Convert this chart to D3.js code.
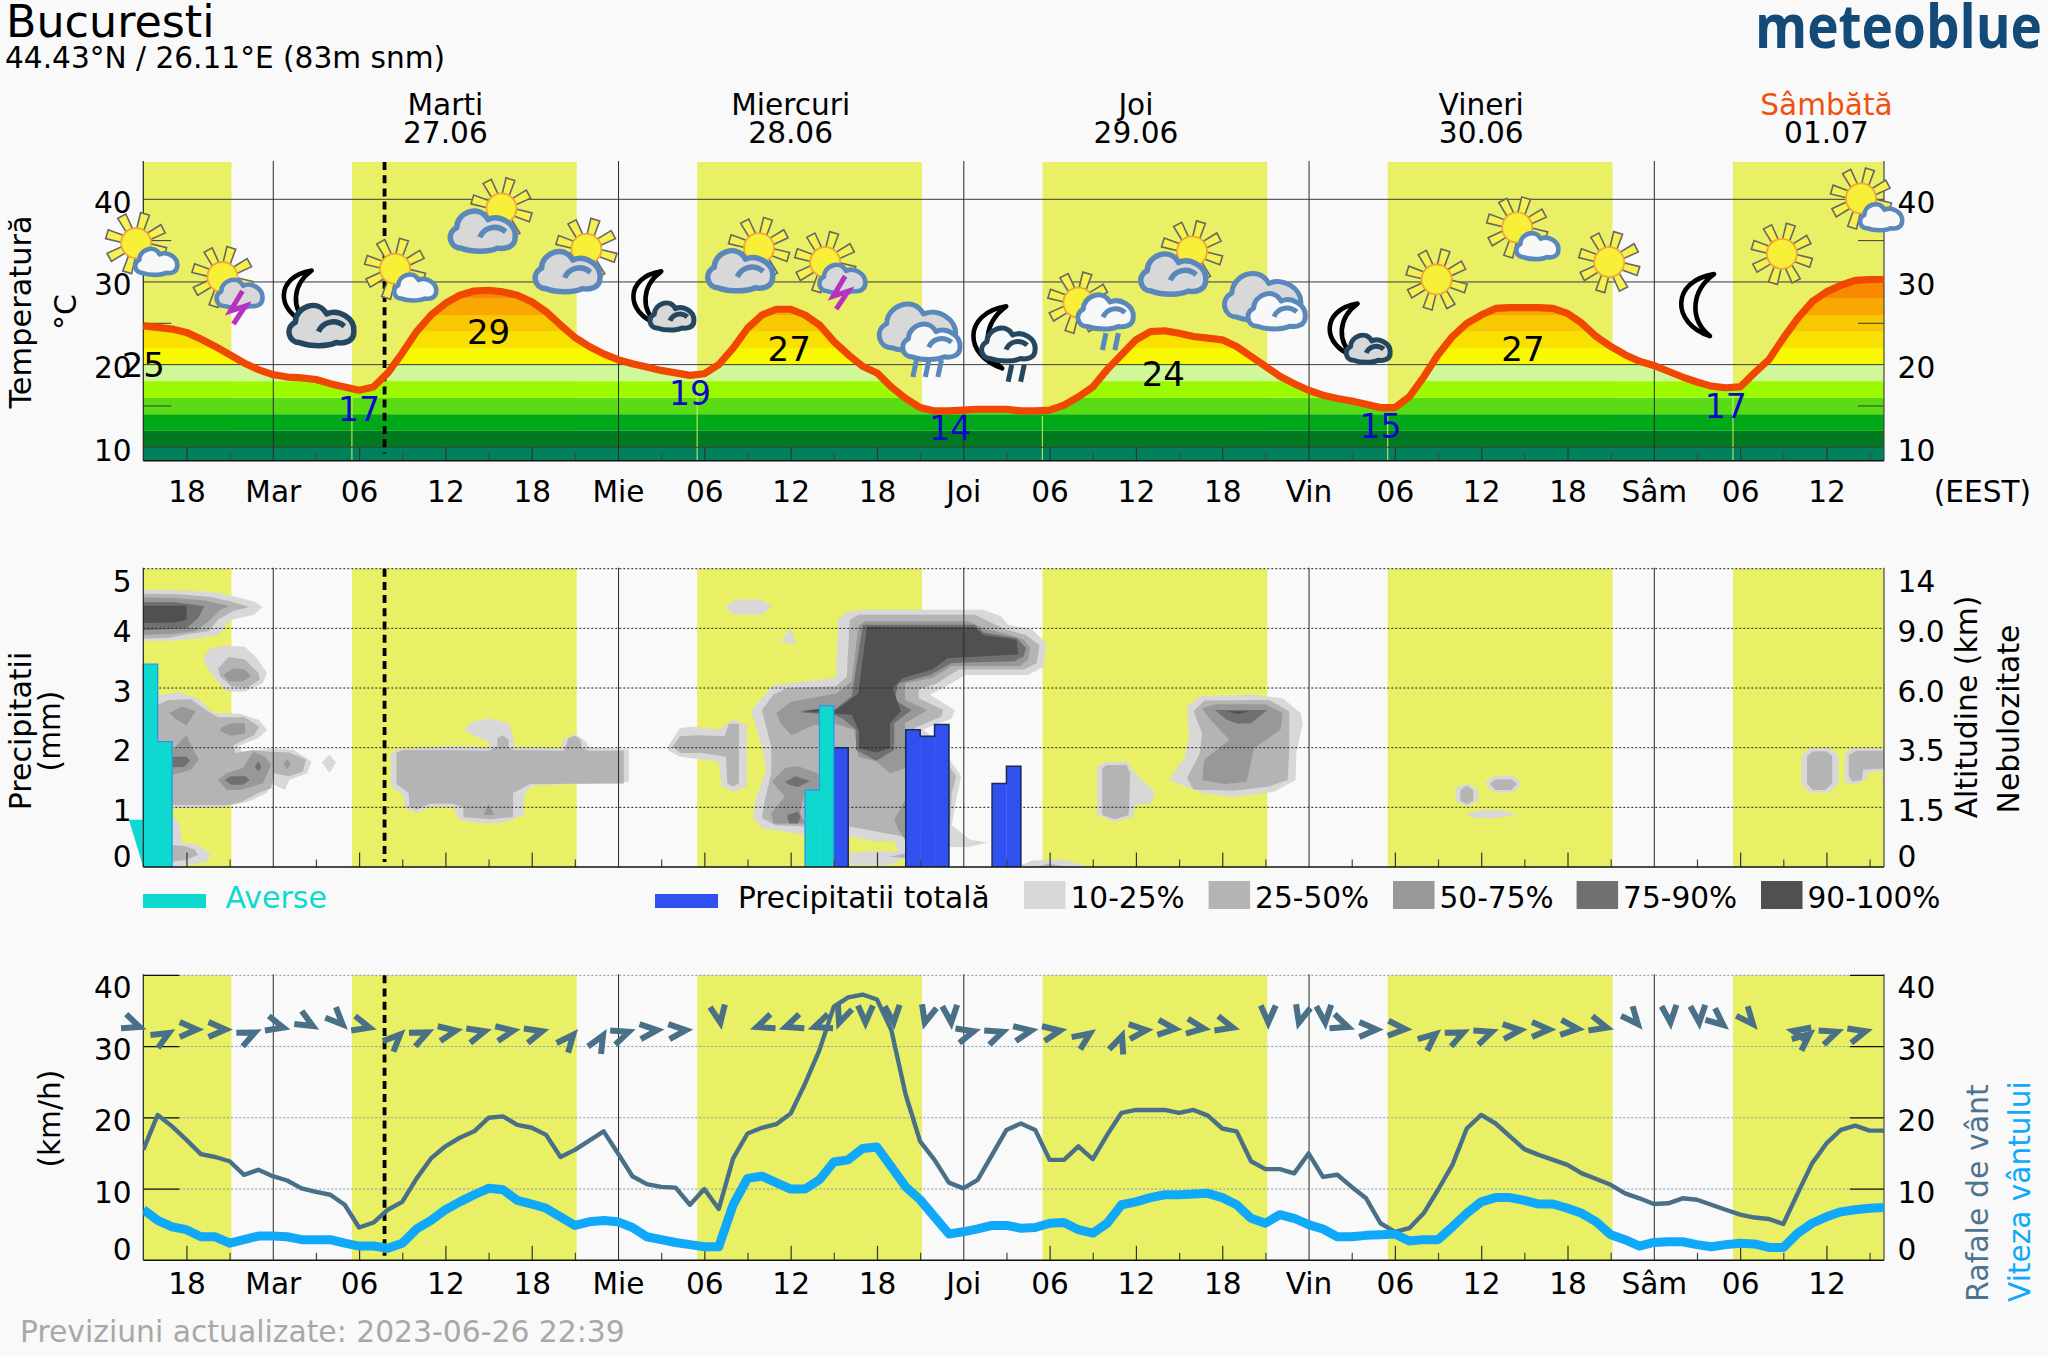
<!DOCTYPE html>
<html><head><meta charset="utf-8">
<style>html,body{margin:0;padding:0;background:#f9f9f9}svg{display:block}text{font-family:"DejaVu Sans",sans-serif}</style>
<script src="https://cdn.jsdelivr.net/npm/d3@7/dist/d3.min.js"></script>
</head><body><div id="c"></div>
<script>
// ---------- DATA ----------
const startHour = -9, endHour = 112;   // hours from Tuesday 00:00
const hours = d3.range(startHour, endHour + 1);
const temperature = [24.7,24.5,24.3,23.9,23.1,22.2,21.2,20.2,19.4,18.8,18.5,18.4,18.2,17.7,17.3,16.9,17.3,19,21.4,24,26,27.4,28.4,28.9,29,28.8,28.4,27.6,26.4,24.8,23.3,22.2,21.3,20.6,20.1,19.7,19.3,19,18.7,18.9,20,22,24.4,26,26.7,26.7,26,24.8,22.8,21.2,19.8,19,17.3,15.9,14.8,14.4,14.4,14.5,14.6,14.6,14.6,14.4,14.4,14.5,15.1,16.1,17.3,19.4,21.2,23,24,24.1,23.8,23.4,23.2,23,22.2,21,19.8,18.6,17.7,16.9,16.3,15.9,15.6,15.2,14.8,14.8,16.1,18.5,21.2,23.4,25,26,26.8,26.9,26.9,26.9,26.8,26.2,25,23.4,22.2,21.2,20.4,19.9,19.2,18.5,17.9,17.4,17.2,17.3,19,20.6,23.2,25.6,27.6,28.8,29.6,30.2,30.3,30.3];
const gusts = [15.5,20.4,18.8,16.9,14.9,14.5,13.9,12,12.7,11.8,11.2,10.1,9.6,9.2,7.8,4.6,5.3,7.1,8.2,11.5,14.3,16,17.2,18.1,20,20.2,19,18.6,17.6,14.5,15.5,16.8,18.1,15,11.8,10.7,10.3,10.2,7.8,10,7.2,14.3,17.8,18.6,19.1,20.6,24.8,29.5,35.6,36.9,37.3,36.6,32.3,23.2,16.7,14.1,10.9,10.1,11.3,14.8,18.3,19.2,18.3,14.1,14.1,16,14.2,17.6,20.7,21.1,21.1,21.1,20.7,21.1,20.3,18.5,18.1,13.9,12.8,12.8,12.2,15,11.7,12,10.3,8.7,5.2,4,4.5,6.6,9.9,13.4,18.5,20.4,19.2,17.4,15.6,14.8,14.1,13.4,12.2,11.4,10.6,9.4,8.7,7.9,8,8.7,8.5,7.8,7.1,6.4,6,5.8,5.1,9.4,13.6,16.4,18.3,18.9,18.2,18.2];
const windSpeed = [7.1,5.6,4.7,4.3,3.3,3.3,2.4,2.9,3.4,3.4,3.3,2.9,2.9,2.9,2.4,2,2,1.7,2.4,4.4,5.6,7.1,8.2,9.2,10.1,9.9,8.4,7.9,7.3,6.1,4.9,5.4,5.6,5.4,4.6,3.3,2.9,2.5,2.2,1.9,1.9,7.8,11.5,11.8,10.9,10,10,11.3,13.8,14.1,15.7,15.9,13.1,10.3,8.5,6.1,3.7,4,4.4,4.9,4.9,4.5,4.6,5.2,5.3,4.3,3.8,5.2,7.8,8.2,8.8,9.2,9.2,9.3,9.4,8.8,7.8,5.9,5.2,6.4,5.9,5,4.4,3.3,3.3,3.5,3.6,3.7,2.7,2.9,2.9,4.7,6.6,8.2,8.8,8.8,8.4,7.9,7.9,7.3,6.6,5.4,3.6,2.9,2,2.5,2.6,2.6,2.2,1.9,2.2,2.4,2.3,1.8,1.8,3.8,5.2,6.1,6.8,7.1,7.3,7.4];
const windDirection = [20,-30,0,0,-25,15,30,45,15,-45,-25,-10,-15,-10,-15,-50,-60,-20,-5,-5,80,160,160,160,110,90,85,105,85,-15,-20,-10,-10,-35,-70,-5,5,8,15,90,105,85,20,0,3,-40,-25,-20,-5,0,5,15,50,85,85,40,50,193,-40,-20,-15];
const windArrowFirstHour = -8.8, windArrowStep = 2, windArrowLevel = 32.4;
const sunrise = [5.5,29.5,53.5,77.5,101.5];
const dayStart = [-9,5.5,29.5,53.5,77.5,101.5];
const dayEnd = [-2.87,21.13,45.13,69.13,93.13,112];
const tempBandFloor = [8,10,12,14,16,18,20,22,24,26,28,30];
const tempBandTop = [10,12,14,16,18,20,22,24,26,28,30,46];
const tempBandColor = ["#00805c","#007a20","#00a81a","#5adc14","#9cfa00","#d0f898","#f8f800","#f8e000","#f8c800","#f8a800","#f88800","#f06800"];
const maxLabelHour = [-9,15,35.9,61.9,86.9], maxLabelValue = [25,29,27,24,27];
const minLabelHour = [6,29,47.1,77,101], minLabelValue = [17,19,14,15,17], minLabelLevel = [17,19,14.8,15,17.4];
const dayNames = ["Marti","Miercuri","Joi","Vineri","Sâmbătă"];
const dayDates = ["27.06","28.06","29.06","30.06","01.07"];
const dayNoon = [12,36,60,84,108];
const dayColor = ["#000","#000","#000","#000","#f05010"];
const hourTickLabelHours = d3.range(-6,110,6);
const hourTickNames = {0:"Mar",24:"Mie",48:"Joi",72:"Vin",96:"Sâm"};
const nowHour = 7.77;
const tempTicks=[10,20,30,40], tempMinor=[15,25,35];
const precipTicks=[0,1,2,3,4,5], altitudeLabels=["0","1.5","3.5","6.0","9.0","14"];
const windTicks=[0,10,20,30,40];
const showerHour=[-9,-8,37,38], showerValue=[3.4,2.1,1.29,2.7];
const totalHour=[39,44,45,46,50,51], totalValue=[2,2.3,2.19,2.39,1.4,1.69];
const showerSliver=[[-10,0.79],[-9,0.79],[-9,0]];
const iconHour=[-9.5,-3.5,1.7,8.5,15.9,21.8,26,33.8,38.4,45,49.8,56,63.9,69,74.4,80.9,86.5,92.9,99,104.9,110.4];
const iconLevel=[34.7,30.6,28.2,31.6,38.9,34,28.1,34.1,32.4,24.5,23.3,27.5,33.7,28.2,24.2,30.3,36.6,32.4,27.2,33.4,40.1];
const iconKind=["sunSmall","sunBolt","moonCloud","sunSmall","sunBig","sunBig","moonSmall","sunBig","sunBolt","dblRain","moonRain","sunRain","sunBig","dbl","moonSmall","sun","sunSmall","sun","moon","sun","sunSmall"];
const cloudColors=["#d8d8d8","#b4b4b4","#989898","#707070","#505050"];
const legendCloudNames=["10-25%","25-50%","50-75%","75-90%","90-100%"];
// cloud-cover contours: [hour, level on the left precipitation axis]
const cloud10=[
[[-9.07,4.65],[-6.6,4.64],[-4.1,4.61],[-2.6,4.53],[-1.3,4.45],[-0.7,4.36],[-1.3,4.23],[-2.6,4.16],[-3.05,4.12],[-3.7,3.89],[-5.4,3.83],[-7.3,3.79],[-9.07,3.79]],
[[-4.8,3.53],[-4.3,3.67],[-3.2,3.71],[-1.95,3.69],[-1.2,3.53],[-0.4,3.25],[-0.7,3.08],[-1.95,2.94],[-3.2,2.94],[-4.1,3.19],[-4.7,3.39]],
[[-8.2,2.87],[-6.5,2.93],[-5.2,2.82],[-4.1,2.58],[-2.3,2.57],[-1,2.47],[-0.4,2.3],[-1,2.16],[-2.4,2.03],[-2.1,1.93],[-0.1,1.99],[1.45,1.96],[2.7,1.77],[2.4,1.57],[1.15,1.46],[0.85,1.29],[-0.1,1.4],[-0.4,1.24],[-1.65,1.1],[-3.2,1.01],[-7,0.98],[-9.07,0.98],[-9.07,2.87]],
[[3.4,1.75],[3.95,1.88],[4.4,1.75],[3.95,1.58]],
[[-7,0.87],[-6.5,0.73],[-6.3,0.4],[-5.4,0.39],[-4.3,0.23],[-4.6,0.09],[-6,0.02],[-7,0]],
[[8.2,1.91],[8.6,1.97],[12,2.03],[14.8,2.01],[15.1,2.03],[15,2.1],[13.9,2.21],[13.3,2.3],[13.9,2.44],[15.1,2.49],[16.4,2.41],[16.7,2.19],[16.8,2.01],[20.1,1.99],[20.15,2.13],[21,2.23],[21.8,2.1],[21.95,2.01],[24.75,1.97],[24.75,1.43],[18.05,1.36],[17.45,1.21],[17.45,0.87],[16.05,0.74],[14.35,0.73],[12.95,0.79],[12.5,1.01],[10.9,1.01],[10,0.9],[9.2,0.98],[9.05,1.21],[8.2,1.35]],
[[27.5,2.03],[28.3,2.33],[29.25,2.35],[31,2.3],[32,2.47],[32.95,2.38],[32.95,1.35],[32.1,1.26],[31.2,1.35],[31,1.77],[29.85,1.8],[28.3,1.85],[27.5,1.95]],
[[31.4,4.35],[32.15,4.48],[33.85,4.49],[34.7,4.37],[34,4.23],[32.15,4.23]],
[[35.3,3.78],[36,4],[36.4,3.72]],
[[33.25,2.61],[33.87,2.8],[34.8,3.05],[39.15,3.17],[39.3,4.14],[39.9,4.28],[41.3,4.31],[49.4,4.31],[50.65,4.2],[51.1,4.06],[52.8,3.98],[53.75,3.75],[53.6,3.36],[52.5,3.22],[48.15,3.22],[46.6,3],[45.67,2.89],[47.4,2.63],[47.2,2.49],[45.2,2.3],[46,2.16],[47.05,1.8],[47.85,1.52],[47.5,1.12],[47.2,0.7],[48.45,0.46],[49.7,0.41],[48.45,0.34],[46.9,0.33],[43.95,0.15],[42.9,0.03],[40.1,0.03],[40.1,0.23],[41.3,0.27],[43.5,0.26],[43.2,0.43],[41.6,0.43],[40.1,0.51],[37,0.54],[34,0.65],[33.4,0.82],[33.55,1.12],[34.3,1.63],[34,2.02]],
[[52,0.03],[52.8,0.11],[55,0.12],[56.4,0.03],[56.4,0],[52,0]],
[[57.3,1.68],[57.8,1.75],[59.35,1.77],[59.95,1.57],[61.35,1.24],[61.05,1.07],[59.95,1.04],[59.8,0.84],[58.55,0.76],[57.3,0.87]],
[[62.3,1.46],[63.4,1.85],[63.7,2.19],[63.55,2.69],[64.45,2.86],[68,2.89],[70.2,2.83],[71.45,2.58],[71.6,2.41],[71.15,1.91],[71.1,1.46],[69.6,1.26],[66.8,1.17],[64.6,1.24]],
[[82.2,1.32],[83,1.4],[83.8,1.3],[83.8,1.11],[83,1.01],[82.2,1.11]],
[[84.25,1.4],[84.9,1.53],[86.25,1.53],[86.8,1.4],[86.25,1.25],[84.9,1.25]],
[[82.9,0.87],[83.9,0.95],[85.3,0.95],[86.55,0.87],[85,0.82],[83.6,0.82]],
[[106.25,1.86],[106.8,1.99],[108.3,1.99],[108.85,1.86],[108.85,1.4],[108.2,1.25],[106.8,1.25],[106.25,1.4]],
[[109.25,1.86],[109.6,1.99],[112,1.99],[112,1.6],[111.05,1.6],[110.7,1.46],[109.95,1.38],[109.25,1.43]],
[[111.8,1.46],[112,1.52],[112,1.36]]
];
const cloud25=[
[[-9.07,4.58],[-6.6,4.57],[-4.4,4.53],[-2.9,4.45],[-1.65,4.36],[-2.75,4.29],[-3.8,4.15],[-4.45,3.95],[-6,3.9],[-7.3,3.84],[-9.07,3.83]],
[[-3.8,3.33],[-3.05,3.52],[-1.95,3.48],[-1,3.25],[-0.9,3.14],[-1.8,3],[-2.9,3.03],[-3.65,3.19]],
[[-8.2,2.69],[-7.3,2.8],[-5.7,2.81],[-4.45,2.6],[-3.8,2.51],[-1.95,2.51],[-0.95,2.35],[-1.3,2.21],[-2.75,2.04],[-2.6,1.91],[-1.35,1.96],[-0.1,1.93],[1.15,1.92],[2.3,1.8],[2.1,1.6],[1.15,1.52],[0.05,1.57],[-0.1,1.32],[-1,1.24],[-2.1,1.1],[-3.05,1.04],[-7,1.04],[-9.07,1.04],[-9.07,2.69]],
[[-7,0.37],[-6.15,0.35],[-5.4,0.29],[-5.2,0.2],[-6,0.12],[-7,0.09]],
[[8.6,1.92],[9.05,1.96],[12,1.96],[15,1.95],[15.6,2.02],[15.6,2.16],[16,2.21],[16.4,2.13],[16.4,2],[16.7,1.96],[20.25,1.95],[20.55,2.16],[21,2.2],[21.4,2.13],[21.5,1.99],[21.95,1.95],[24.4,1.95],[24.4,1.4],[17.9,1.39],[16.7,1.24],[16.7,0.84],[15.1,0.8],[13.25,0.84],[13.25,1],[12.5,1.06],[10.9,1.06],[10,0.97],[9.5,1.01],[9.45,1.24],[8.6,1.39]],
[[27.8,2.02],[28.3,2.19],[29.55,2.21],[31.4,2.19],[31.7,2.4],[32.4,2.4],[32.4,1.4],[32,1.35],[31.6,1.4],[31.5,1.85],[29.85,1.91],[28.3,1.91]],
[[34,2.63],[34.8,2.89],[35.75,3],[39.15,3.03],[39.9,3.19],[40.1,4.14],[40.7,4.23],[48.8,4.23],[50,4.09],[50.95,3.98],[52.35,3.89],[53.3,3.72],[53.1,3.42],[52.2,3.31],[47.7,3.31],[46.15,3.08],[44.9,2.97],[44.9,2.83],[46.6,2.63],[46.45,2.52],[44.6,2.33],[45.35,2.13],[47.05,1.68],[47.5,1.52],[47.2,1.24],[47.05,0.68],[43.8,0.51],[40.1,0.68],[37,0.68],[35,0.7],[34,0.82],[34.2,1.12],[34.65,1.57],[34.65,2.02]],
[[42.9,0.17],[43.95,0.23],[43.95,0.15]],
[[53,0],[53.9,0.06],[55.3,0]],
[[57.65,1.66],[57.95,1.71],[59.35,1.71],[59.6,1.57],[59.5,0.87],[58.55,0.8],[57.65,0.87]],
[[63.55,1.49],[64.45,1.91],[64.6,2.24],[64,2.61],[64.75,2.79],[69.25,2.8],[70.65,2.61],[70.65,1.96],[70.55,1.46],[69.25,1.35],[66.8,1.28],[64,1.3]],
[[82.55,1.29],[83,1.36],[83.45,1.29],[83.45,1.11],[83,1.05],[82.55,1.11]],
[[84.6,1.39],[85,1.47],[86.1,1.47],[86.5,1.39],[86.1,1.29],[85,1.29]],
[[106.65,1.86],[107.05,1.94],[108,1.94],[108.4,1.86],[108.4,1.4],[107.9,1.29],[107.05,1.29],[106.65,1.4]],
[[109.55,1.88],[110.1,1.95],[112,1.95],[112,1.65],[110.55,1.63],[110.45,1.46],[109.8,1.43],[109.55,1.52]]
];
const cloud50=[
[[-9.07,4.52],[-6.9,4.51],[-4.75,4.47],[-3.05,4.37],[-3.65,4.31],[-4.45,4.12],[-5.4,3.95],[-6.9,3.91],[-9.07,3.89]],
[[-3.45,3.22],[-2.75,3.33],[-1.95,3.31],[-1.5,3.2],[-2.1,3.11],[-3.05,3.11]],
[[-7.2,2.58],[-6.3,2.69],[-5.35,2.61],[-6,2.37],[-6.8,2.49]],
[[-3.65,2.33],[-2.9,2.41],[-1.95,2.41],[-1.9,2.24],[-2.9,2.2],[-3.6,2.27]],
[[-7,1.96],[-6,2.21],[-5.5,1.96],[-5.15,1.8],[-5.7,1.63],[-7,1.54]],
[[-3.8,1.46],[-3.2,1.57],[-2.1,1.66],[-1.35,1.93],[-0.55,1.85],[-0.1,1.71],[-0.7,1.4],[-2.25,1.29],[-3.2,1.29]],
[[0.75,1.73],[1,1.81],[1.25,1.73],[1,1.64]],
[[14.65,0.87],[15,1.06],[15.4,0.87]],
[[35,2.58],[36.05,2.77],[39.15,2.91],[40.25,3.11],[40.7,4.03],[41.15,4.12],[48.3,4.12],[49.4,4],[51.25,3.89],[52.2,3.81],[52.65,3.67],[52.5,3.47],[51.9,3.37],[47.2,3.37],[45.85,3.17],[43.95,3.08],[43.95,2.8],[45.5,2.63],[43.95,2.41],[43.95,1.66],[42.9,1.57],[41.95,1.77],[40.7,1.85],[40.4,2.3],[39,2.41],[37.6,2.38],[36.05,2.21],[35.3,2.41]],
[[34.7,1.43],[35.6,1.66],[36.5,1.69],[37.9,1.57],[38.05,1.29],[37,1.29],[36.65,0.9],[37,0.73],[34.8,0.73],[34.65,0.9],[35.6,1.18]],
[[43.2,0.79],[43.95,1.12],[43.95,0.46],[43.5,0.62]],
[[64.6,1.46],[64.75,1.8],[66.5,2.13],[65,2.52],[64.6,2.66],[65.55,2.73],[69,2.73],[70.2,2.58],[70.05,2.3],[68.2,1.99],[67.7,1.43],[66.15,1.39]]
];
const cloud75=[
[[-9.07,4.44],[-6.9,4.44],[-4.75,4.37],[-5.2,4.17],[-6,4],[-7.85,3.98],[-9.07,3.97]],
[[-7,1.85],[-6,1.85],[-5.75,1.78],[-6.15,1.68],[-7,1.67]],
[[-3.35,1.46],[-2.9,1.52],[-1.9,1.52],[-1.6,1.46],[-2.1,1.38],[-2.9,1.38]],
[[-1.25,1.68],[-1,1.77],[-0.8,1.68],[-1,1.6]],
[[39,2.63],[40.25,2.86],[41,4.06],[48.8,4.06],[49.4,3.93],[51.7,3.84],[52.35,3.67],[52.2,3.53],[51.55,3.45],[47.2,3.42],[45.7,3.22],[43.5,3.08],[43.2,2.8],[44.4,2.63],[43.2,2.41],[43.2,1.96],[41.95,1.78],[40.55,1.96],[40.55,2.3],[39.6,2.49],[39,2.55],[36.65,2.59]],
[[35.6,1.43],[36.35,1.52],[37.35,1.44],[36.5,1.34],[35.9,1.38]],
[[35.75,0.87],[36.5,0.93],[36.7,0.84],[36.5,0.73],[35.9,0.73]],
[[65.5,2.63],[69.15,2.63],[68,2.41],[67.1,2.4],[66.3,2.47]]
];
const cloud90=[
[[-9.07,4.38],[-6,4.38],[-6,4.14],[-6.9,4.1],[-9.07,4.09]],
[[36.65,2.61],[37.9,2.65],[39.15,2.63],[40.7,2.91],[41.3,4.03],[48.8,4.02],[49.4,3.89],[51.7,3.81],[51.8,3.56],[46.9,3.5],[45.85,3.31],[43.8,3.17],[43.1,3],[43.65,2.61],[42.9,2.41],[42.9,1.99],[41.95,1.92],[40.75,1.99],[40.75,2.27],[40.25,2.55],[39.15,2.57]],
[[66.3,2.61],[67.85,2.61],[67.1,2.56]]
];

// ---------- LAYOUT ----------
const W=2048,H=1356,PL=143.3,PR=1884;
const svg=d3.select("#c").append("svg").attr("width",W).attr("height",H);
svg.append("rect").attr("width",W).attr("height",H).attr("fill","#f9f9f9");
const x=d3.scaleLinear().domain([startHour,endHour]).range([PL,PR]);
const panels={temp:{top:162,bottom:460.7},prec:{top:568.7,bottom:867},wind:{top:975.3,bottom:1260.3}};
const yT=d3.scaleLinear().domain([10,40]).range([447.3,199.3]);
const yP=d3.scaleLinear().domain([0,5]).range([867,568.7]);
const yW=d3.scaleLinear().domain([0,40]).range([1260.3,975.3]);
const FS=29.6;
const defs=svg.append("defs");
Object.entries(panels).forEach(([k,p])=>defs.append("clipPath").attr("id","clip-"+k).append("rect").attr("x",PL).attr("y",p.top).attr("width",PR-PL).attr("height",p.bottom-p.top));

function txt(s,xx,yy,o={}){
  const t=svg.append("text").attr("x",xx).attr("y",yy).attr("font-size",o.fs||FS).attr("fill",o.fill||"#000").attr("text-anchor",o.anchor||"start").text(s);
  if(o.rot) t.attr("transform",`rotate(-90 ${xx} ${yy})`);
  return t;
}
// day bands
Object.values(panels).forEach(p=>{
  svg.append("g").selectAll("rect").data(dayStart).join("rect")
    .attr("x",d=>x(d)).attr("width",(d,i)=>x(dayEnd[i])-x(d)).attr("y",p.top).attr("height",p.bottom-p.top).attr("fill","#e9f066");
});
// temperature area with coloured bands
const area=d3.area().x((d,i)=>x(hours[i])).y0(panels.temp.bottom).y1(d=>yT(d));
defs.append("clipPath").attr("id","tempArea").append("path").attr("d",area(temperature));
svg.append("g").attr("clip-path","url(#tempArea)").selectAll("rect").data(tempBandFloor).join("rect")
  .attr("x",PL).attr("width",PR-PL).attr("y",(d,i)=>yT(tempBandTop[i])).attr("height",(d,i)=>yT(d)-yT(tempBandTop[i])).attr("fill",(d,i)=>tempBandColor[i]);
svg.append("g").attr("clip-path","url(#clip-temp)").selectAll("line").data(sunrise).join("line")
  .attr("x1",d=>x(d)).attr("x2",d=>x(d)).attr("y2",panels.temp.bottom)
  .attr("y1",d=>yT(temperature[Math.round(d)-startHour])+6).attr("stroke","#e9f066").attr("stroke-width",1.2).attr("opacity",.8);
// clouds
[cloud10,cloud25,cloud50,cloud75,cloud90].forEach((set,i)=>{
  svg.append("g").attr("clip-path","url(#clip-prec)").selectAll("path").data(set).join("path")
   .attr("d",d3.line().x(d=>x(d[0])).y(d=>yP(d[1])).curve(d3.curveLinearClosed)).attr("fill",cloudColors[i]);
});
// grid
svg.append("g").selectAll("line").data(tempTicks).join("line").attr("x1",PL).attr("x2",PR).attr("y1",d=>yT(d)).attr("y2",d=>yT(d)).attr("stroke","#3a3a3a").attr("stroke-width",1);
svg.append("g").selectAll("line").data(tempMinor.flatMap(d=>[[PL,PL+28,d],[PR-26,PR,d]])).join("line").attr("x1",d=>d[0]).attr("x2",d=>d[1]).attr("y1",d=>yT(d[2])).attr("y2",d=>yT(d[2])).attr("stroke","#3a3a3a").attr("stroke-width",1);
svg.append("g").selectAll("line").data(precipTicks.slice(1)).join("line").attr("x1",PL).attr("x2",PR).attr("y1",d=>yP(d)).attr("y2",d=>yP(d)).attr("stroke","#222").attr("stroke-width",1).attr("stroke-dasharray","2,2");
svg.append("g").selectAll("line").data(windTicks.slice(1)).join("line").attr("x1",PL).attr("x2",PR).attr("y1",d=>yW(d)).attr("y2",d=>yW(d)).attr("stroke","#7f97b4").attr("stroke-width",1).attr("stroke-dasharray","2,2");
svg.append("g").selectAll("line").data(windTicks.slice(1).flatMap(d=>[[PL,PL+36,d],[PR-34,PR,d]])).join("line").attr("x1",d=>d[0]).attr("x2",d=>d[1]).attr("y1",d=>yW(d[2])).attr("y2",d=>yW(d[2])).attr("stroke","#111").attr("stroke-width",1.2);

// precipitation bars
function runs(hs){const out=[];hs.forEach((h,i)=>{const l=out[out.length-1];if(l&&l[l.length-1]===i-1&&hs[i-1]+1===h)l.push(i);else out.push([i]);});return out;}
function drawBars(hs,vs,fill,stroke,sw){
  svg.append("g").selectAll("rect").data(hs).join("rect").attr("x",d=>x(d)).attr("width",d=>x(d+1)-x(d)+.3).attr("y",(d,i)=>yP(vs[i])).attr("height",(d,i)=>yP(0)-yP(vs[i])).attr("fill",fill);
  const line=d3.line().x(d=>x(d[0])).y(d=>yP(d[1]));
  runs(hs).forEach(r=>{
    const pts=[[hs[r[0]],0]];
    r.forEach(i=>{pts.push([hs[i],vs[i]]);pts.push([hs[i]+1,vs[i]]);});
    pts.push([hs[r[r.length-1]]+1,0]);
    svg.append("path").attr("d",line(pts)).attr("fill","none").attr("stroke",stroke).attr("stroke-width",sw);
  });
}
drawBars(totalHour,totalValue,"#3050f0","#1c2a55",1.5);
drawBars(showerHour,showerValue,"#0fd8d0","#2a9ae0",1.3);
svg.append("path").attr("d",d3.line().x(d=>x(d[0])).y(d=>yP(d[1])).curve(d3.curveLinearClosed)(showerSliver)).attr("fill","#0fd8d0");

// vertical axis lines
function axisX(panelBottom,ticks,size,w,col){
  const ax=d3.axisTop(x).tickValues(ticks).tickSize(size).tickFormat("");
  const g=svg.append("g").attr("transform",`translate(0,${panelBottom})`).call(ax);
  g.select(".domain").remove();
  g.selectAll("line").attr("stroke",col).attr("stroke-width",w);
}
const nonMid=h=>((h%24)+24)%24;
const majorH=d3.range(-6,112,6).filter(h=>nonMid(h)!==0);
const minorH=d3.range(-6,112,3).filter(h=>nonMid(h)%6!==0);
const midH=d3.range(0,112,24);
Object.values(panels).forEach(p=>{
  const span=p===panels.temp?13:14.5;
  axisX(p.bottom,majorH,span,1.2,"#333");
  axisX(p.bottom,minorH,7.5,1.2,"#444");
  axisX(p.bottom,midH,p.bottom-p.top+1,1,"#2a2a2a");
  svg.append("line").attr("x1",PL).attr("x2",PR).attr("y1",p.bottom).attr("y2",p.bottom).attr("stroke","#111").attr("stroke-width",1.6);
  svg.append("line").attr("x1",PL).attr("x2",PL).attr("y1",p.top-1).attr("y2",p.bottom).attr("stroke","#222").attr("stroke-width",1.2);
  svg.append("line").attr("x1",PR).attr("x2",PR).attr("y1",p.top-1).attr("y2",p.bottom).attr("stroke","#444").attr("stroke-width",1.2);
});
// now line
[[162,453.5],[568.7,862],[975.3,1255.7]].forEach(r=>svg.append("line").attr("x1",x(nowHour)).attr("x2",x(nowHour)).attr("y1",r[0]).attr("y2",r[1]).attr("stroke","#000").attr("stroke-width",3.8).attr("stroke-dasharray","8,5.2"));

// series lines
const lineOf=(y)=>d3.line().x((d,i)=>x(hours[i])).y(d=>y(d));
svg.append("path").attr("d",lineOf(yT)(temperature)).attr("fill","none").attr("stroke","#f04800").attr("stroke-width",7.2).attr("stroke-linejoin","round");
const gw=svg.append("g").attr("clip-path","url(#clip-wind)");
gw.append("path").attr("d",lineOf(yW)(gusts)).attr("fill","none").attr("stroke","#4a7088").attr("stroke-width",4.4).attr("stroke-linejoin","round");
gw.append("path").attr("d",lineOf(yW)(windSpeed)).attr("fill","none").attr("stroke","#10a8f8").attr("stroke-width",9).attr("stroke-linejoin","round");

// wind direction chevrons
svg.append("g").selectAll("path").data(windDirection).join("path")
  .attr("transform",(d,i)=>`translate(${x(windArrowFirstHour+i*windArrowStep)},${yW(windArrowLevel)}) rotate(${d})`)
  .attr("d","M-24,-7.5 L-7,0 L-24,7.5").attr("fill","none").attr("stroke","#4a7088").attr("stroke-width",6).attr("stroke-linejoin","miter").attr("stroke-miterlimit",10);

// weather icons
const CLOUD="M18 60 C2 60 -4 38 12 30 C12 8 45 -6 58 18 C75 10 100 24 98 44 C98 58 85 62 72 60 C60 66 35 66 18 60 Z";
const BLUE="#5a88bb",DARK="#24465f",GREY="#d8d8d8",WHITE="#f8f8f8";
function sun(g){
  d3.range(8).forEach(k=>{
    g.append("path").attr("transform",`rotate(${17+45*k})`).attr("d","M-3.6,-14 L-4.6,-30.5 L4.6,-30.5 L3.6,-14 Z").attr("fill","#f6f050").attr("stroke","#666").attr("stroke-width",1.6);
  });
  g.append("circle").attr("r",15).attr("fill","#f8f038").attr("stroke","#f0a838").attr("stroke-width",1.8);
}
function cloud(g,dx,dy,s,fill,stroke,w,hook){
  const c=g.append("g").attr("transform",`translate(${dx},${dy}) scale(${s}) translate(-50,-31)`);
  c.append("path").attr("d",CLOUD).attr("fill",fill).attr("stroke",stroke).attr("stroke-width",w/s).attr("stroke-linejoin","round");
  if(hook)c.append("path").attr("d","M46 44 C52 30 70 24 84 36").attr("fill","none").attr("stroke",stroke).attr("stroke-width",w/s);
}
function moon(g,s){
  g.append("path").attr("transform",`scale(${s})`).attr("d","M17,-31 C-26,-24 -26,18 13,31 C-8,14 -6,-14 17,-31 Z").attr("fill","#fbfbfb").attr("stroke","#000").attr("stroke-width",4.6/s).attr("stroke-linejoin","round");
}
function bolt(g,dx,dy){g.append("path").attr("transform",`translate(${dx},${dy})`).attr("d","M5,-17 L-7,3 L8,-2 L-4,16").attr("fill","none").attr("stroke","#b830c0").attr("stroke-width",5);}
function rain(g,dx,dy,n,col){
  d3.range(n).forEach(i=>{const xx=dx+(i-(n-1)/2)*12.5;
    g.append("line").attr("x1",xx+1.8).attr("x2",xx-1.8).attr("y1",dy-8.5).attr("y2",dy+8.5).attr("stroke",col).attr("stroke-width",5);});
}
const drawIcon={
 sun:g=>sun(g),
 sunSmall:g=>{sun(g);cloud(g,20,17,.44,WHITE,BLUE,4.6,false);},
 sunBolt:g=>{sun(g);cloud(g,17,15,.48,GREY,BLUE,4.6,false);bolt(g,15,31);},
 sunBig:g=>{sun(g);cloud(g,-19,20,.68,GREY,BLUE,5.5,true);},
 sunRain:g=>{sun(g);cloud(g,27,7,.58,WHITE,BLUE,5,true);rain(g,32,39,2,BLUE);},
 moon:g=>moon(g,1),
 moonCloud:g=>{moon(g,.85);cloud(g,24,26,.68,GREY,DARK,5.5,true);},
 moonSmall:g=>{moon(g,.85);cloud(g,25,17,.46,GREY,DARK,5,true);},
 moonRain:g=>{moon(g,1);cloud(g,19,5,.56,WHITE,DARK,5,true);rain(g,27,36,2,DARK);},
 dbl:g=>{cloud(g,-3,-3,.8,GREY,BLUE,5,false);cloud(g,11,12,.6,WHITE,BLUE,5,true);},
 dblRain:g=>{cloud(g,-3,-3,.8,GREY,BLUE,5,false);cloud(g,11,12,.6,WHITE,BLUE,5,true);rain(g,7,41,3,BLUE);}
};
iconKind.forEach((k,i)=>{
  const g=svg.append("g").attr("transform",`translate(${x(iconHour[i])},${yT(iconLevel[i])})`);
  drawIcon[k](g);
});

// temp labels
maxLabelValue.forEach((v,i)=>txt(v,x(maxLabelHour[i]),yT(v)+54,{anchor:"middle",fs:34}));
minLabelValue.forEach((v,i)=>txt(v,x(minLabelHour[i]),yT(minLabelLevel[i])+32,{anchor:"middle",fs:33,fill:"#0a0ac8"}));

// y-axis tick labels through d3 axes
function yAxis(scale,ticks,side,xpos,fmt,shift){
  const gen=(side==="left"?d3.axisLeft(scale):d3.axisRight(scale)).tickValues(ticks).tickSize(0).tickPadding(0).tickFormat(fmt||(d=>d));
  const g=svg.append("g").attr("transform",`translate(${xpos},0)`).call(gen);
  g.select(".domain").remove();
  g.selectAll("text").attr("font-size",FS).attr("fill","#000").attr("font-family",'"DejaVu Sans"')
    .attr("transform",(d,i)=>`translate(0,${shift(d)})`);
}
const tShift=d=>3.5;
yAxis(yT,tempTicks,"left",131.7,null,tShift);
yAxis(yT,tempTicks,"right",1897.6,null,tShift);
const pShift=d=>d===5?13:d===0?-10.3:3.6;
yAxis(yP,precipTicks,"left",131.7,null,pShift);
yAxis(yP,precipTicks,"right",1897.6,d=>altitudeLabels[d],pShift);
const wShift=d=>d===40?13:d===0?-10:3.5;
yAxis(yW,windTicks,"left",131.7,null,wShift);
yAxis(yW,windTicks,"right",1897.6,null,wShift);

// hour labels
[[501.7],[1294.3]].forEach(([base])=>{
  const gen=d3.axisBottom(x).tickValues(hourTickLabelHours).tickSize(0).tickPadding(0)
    .tickFormat(h=>hourTickNames[h]||String(nonMid(h)).padStart(2,"0"));
  const g=svg.append("g").attr("transform",`translate(0,${base})`).call(gen);
  g.select(".domain").remove();
  g.selectAll("text").attr("font-size",FS).attr("fill","#000").attr("font-family",'"DejaVu Sans"').attr("dy",0).attr("y",0);
});
txt("(EEST)",1933.7,501.7);

// titles
txt("Bucuresti",6,37,{fs:44.4});
txt("44.43°N / 26.11°E (83m snm)",5,68.3);
dayNames.forEach((n,i)=>{
  txt(n,x(dayNoon[i]),115,{anchor:"middle",fill:dayColor[i]});
  txt(dayDates[i],x(dayNoon[i]),142.7,{anchor:"middle"});
});
svg.append("text").attr("x",1755).attr("y",48).attr("font-size",60).attr("fill","#134a78").attr("textLength",287).attr("lengthAdjust","spacingAndGlyphs").style("font-family",'"Open Sans"').style("font-weight",700).text("meteoblue");

// side titles
txt("Temperatură",30.5,312,{rot:1,anchor:"middle",fs:30.4});
txt("°C",76,312,{rot:1,anchor:"middle",fs:30});
txt("Precipitatii",30.5,731,{rot:1,anchor:"middle",fs:30});
txt("(mm)",60,731,{rot:1,anchor:"middle"});
txt("(km/h)",60,1118.7,{rot:1,anchor:"middle"});
txt("Altitudine (km)",1976.6,707,{rot:1,anchor:"middle",fs:29.8});
txt("Nebulozitate",2018.6,719,{rot:1,anchor:"middle",fs:29.8});
txt("Rafale de vânt",1988,1193,{rot:1,anchor:"middle",fs:30,fill:"#4c7390"});
txt("Viteza vântului",2030,1191.6,{rot:1,anchor:"middle",fs:29.6,fill:"#10a8f8"});

// legend
svg.append("rect").attr("x",143).attr("y",894).attr("width",63).attr("height",14).attr("fill","#0fd8d0");
txt("Averse",225.5,908,{fill:"#0fd8d0",fs:30});
svg.append("rect").attr("x",655).attr("y",894).attr("width",63).attr("height",14).attr("fill","#3050f0");
txt("Precipitatii totală",738,907.7);
const legendBoxX=[1024,1208.6,1393,1576.6,1761];
legendCloudNames.forEach((n,i)=>{
  svg.append("rect").attr("x",legendBoxX[i]).attr("y",881).attr("width",41.5).attr("height",28).attr("fill",cloudColors[i]);
  txt(n,legendBoxX[i]+46.5,907.7);
});
txt("Previziuni actualizate: 2023-06-26 22:39",20,1341.7,{fill:"#a8a8a8",fs:29.8});
</script></body></html>
